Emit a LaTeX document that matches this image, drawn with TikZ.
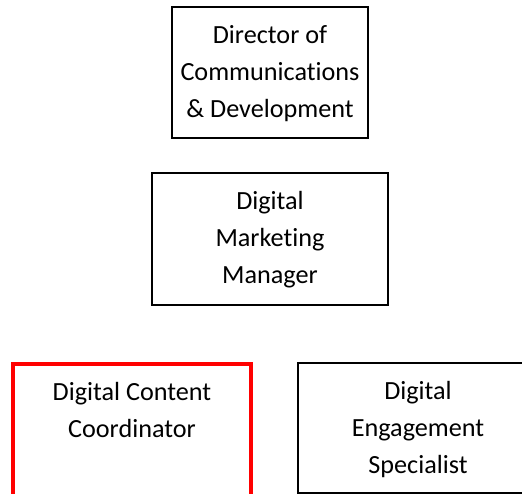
\documentclass[tikz,border=0pt]{standalone}
\usepackage{fontspec}
\setmainfont{Carlito}[Ligatures=NoCommon]
\usepackage{tikz}
\usetikzlibrary{positioning}
\definecolor{rolered}{RGB}{255,0,0}

\begin{document}
\begin{tikzpicture}[x=1pt,y=1pt,
    rolebox/.style={draw=black,line width=2.8pt,outer sep=0pt,inner sep=0pt},
    roletext/.style={anchor=base,align=center,inner sep=0pt,
      font=\fontsize{26.2}{37.2}\selectfont}]
  \useasboundingbox (0,0) rectangle (522,494);
  \begin{scope}
    \clip (0,0) rectangle (522,494);
    % reporting chain, top to bottom
    \node[rolebox,minimum width=196pt,minimum height=131pt] (director) at (270,421.5) {};
    \node[rolebox,minimum width=236pt,minimum height=132pt] (manager) at (270,255) {};
    \node[rolebox,draw=rolered,line width=3.2pt,minimum width=238pt,minimum height=132pt] (content) at (132,64) {};
    \node[rolebox,minimum width=240pt,minimum height=130pt] (engage) at (418,66) {};
  \end{scope}
  % base anchor sits on the last line
  \node[roletext] (director-text) at ([yshift=-110.9pt]director.north) {Director of\\Communications\\\& Development};
  \node[roletext] (manager-text) at ([yshift=-110.9pt]manager.north) {Digital\\Marketing\\Manager};
  \node[roletext] (content-text) at ([yshift=-73.7pt]content.north) {Digital Content\\Coordinator};
  \node[roletext] (engage-text) at ([yshift=-110.9pt]engage.north) {Digital\\Engagement\\Specialist};
\end{tikzpicture}
\end{document}
